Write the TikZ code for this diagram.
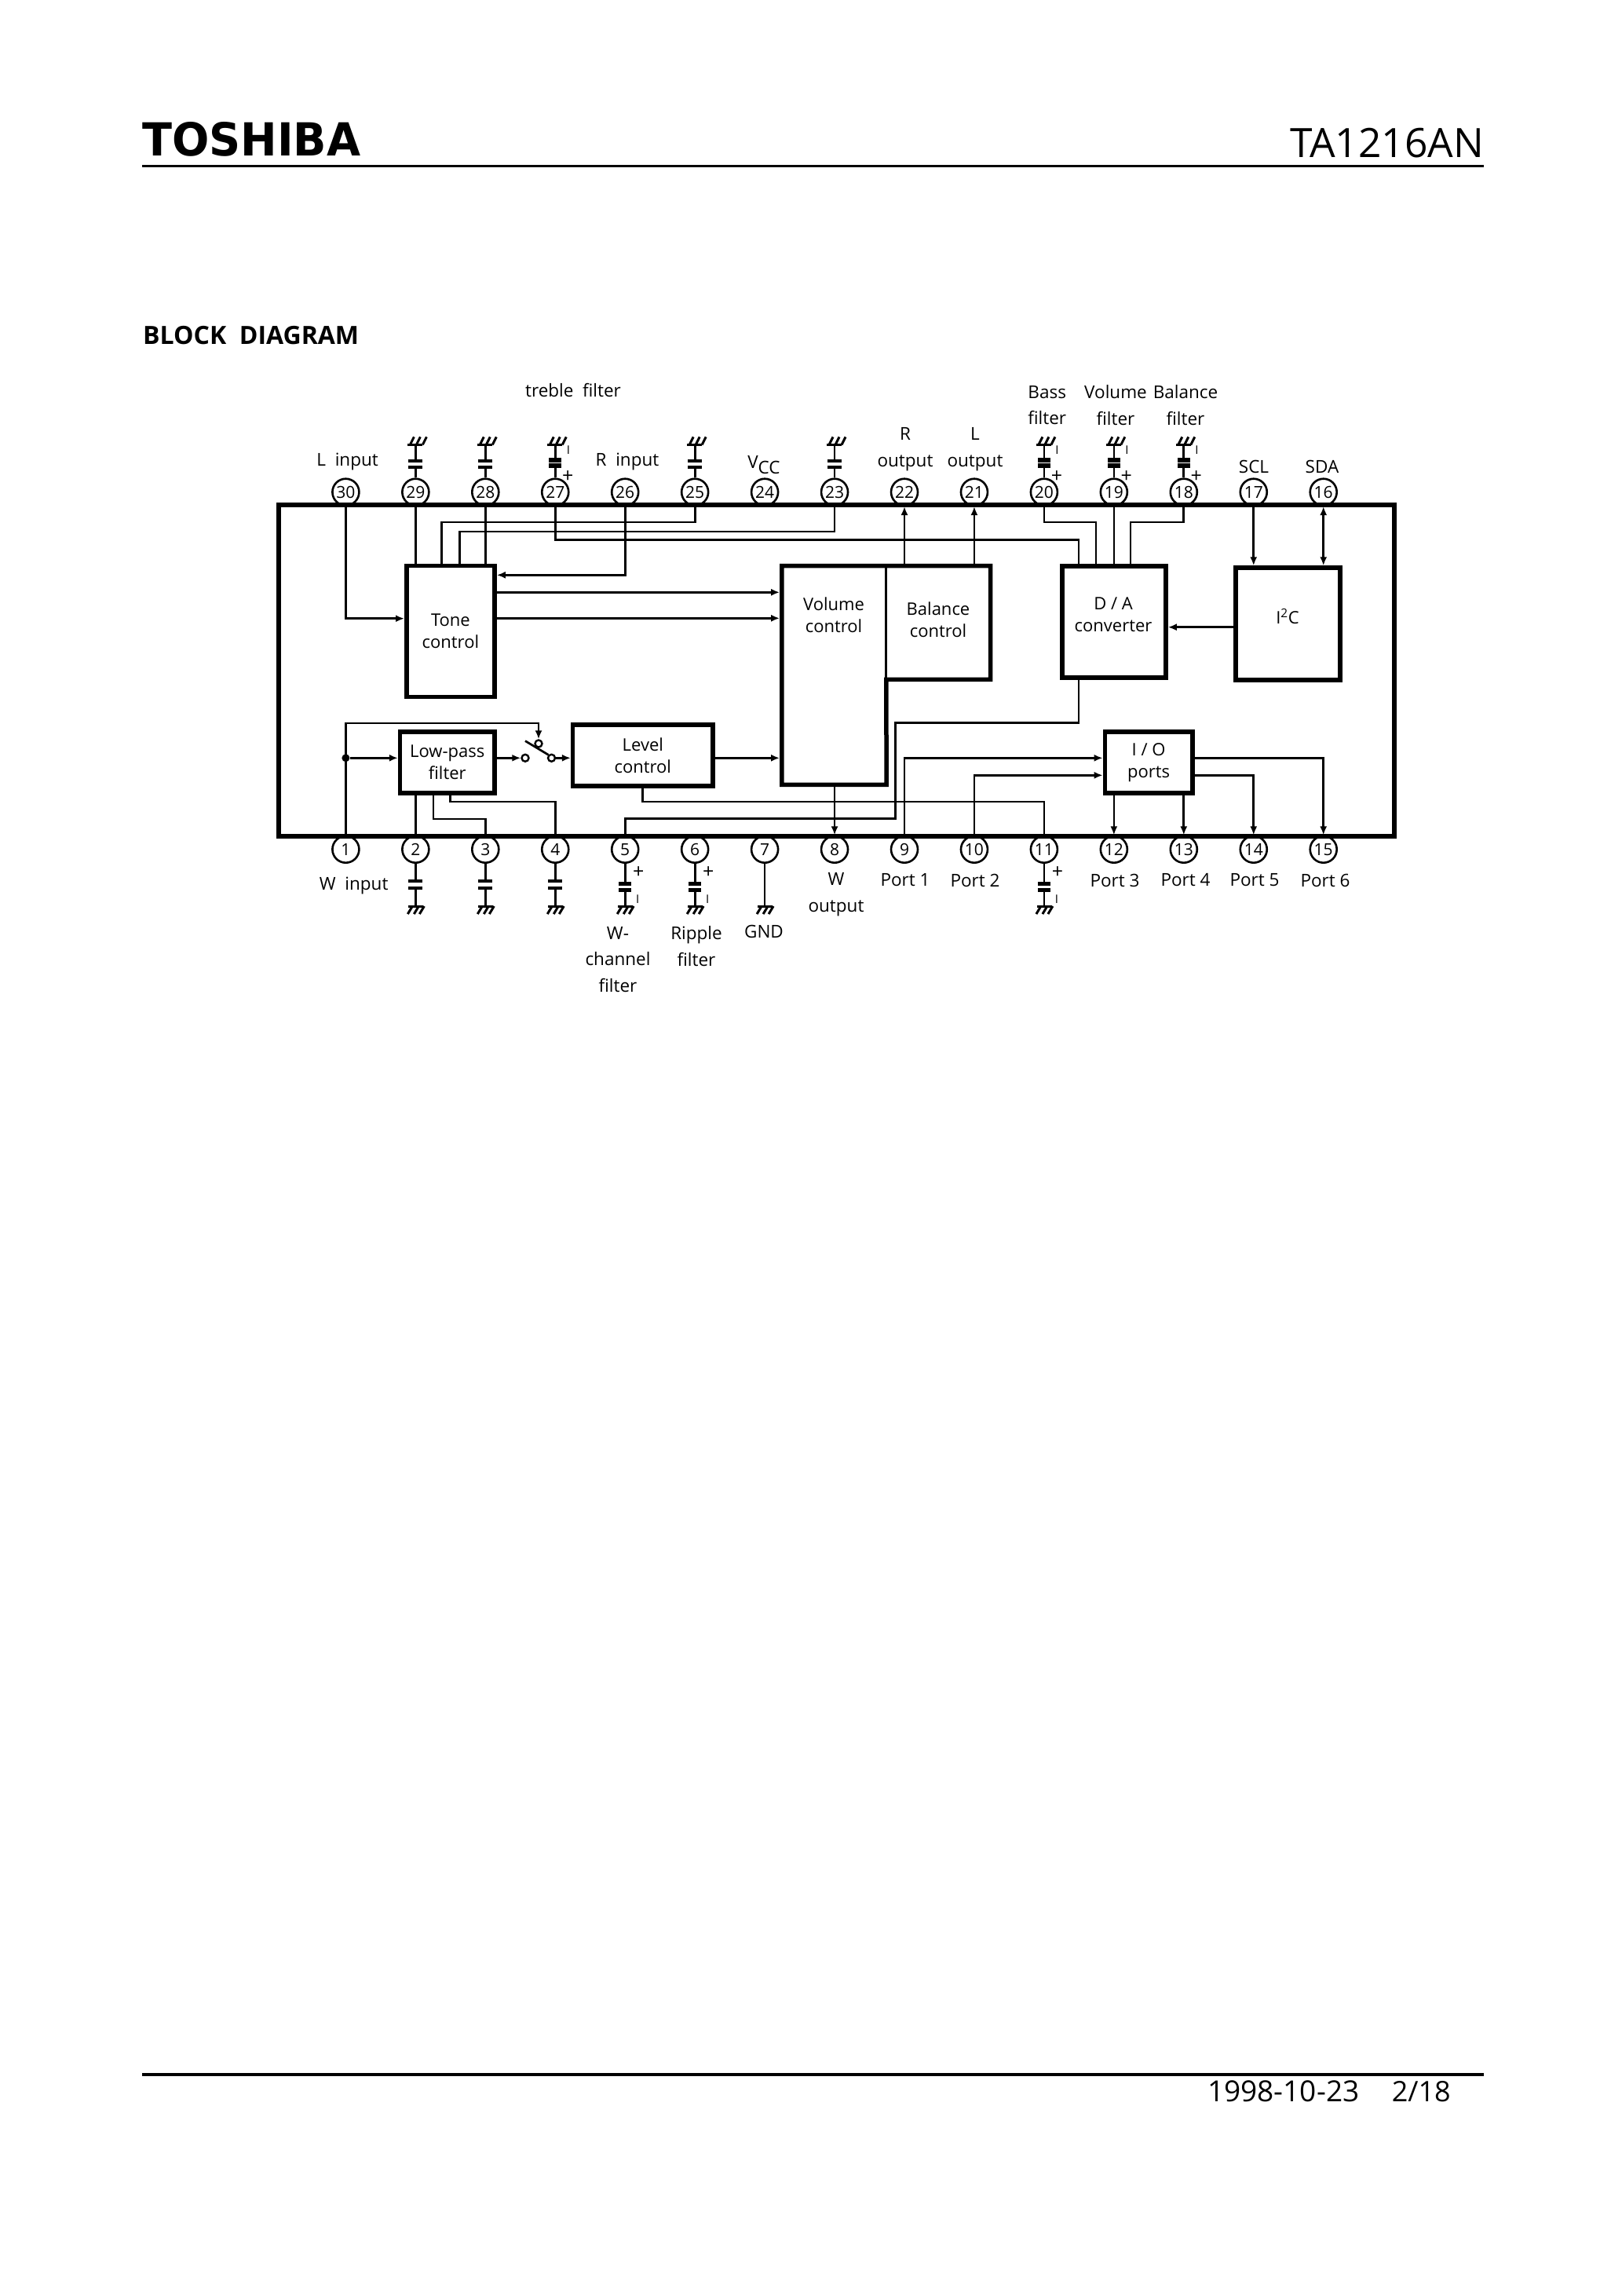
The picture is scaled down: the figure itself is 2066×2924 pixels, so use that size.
\documentclass[tikz,border=0pt]{standalone}
\usepackage{fontspec}
\setmainfont{Open Sans}
\newfontfamily\logofont{DejaVu Sans}
\usetikzlibrary{arrows.meta}
\tikzset{
	wire/.style={line width=2.7pt},
	pinnum/.style={circle,draw,line width=2.6pt,minimum size=34pt,inner sep=0pt,font=\fontsize{21}{21}\selectfont},
	block/.style={draw,line width=5.5pt,inner sep=0pt,align=center,font=\fontsize{22}{28}\selectfont},
	blockarea/.style={inner sep=0pt},
	blocktxt/.style={inner sep=0pt,align=center,font=\fontsize{22}{28}\selectfont},
	lbl/.style={inner sep=0pt,align=center,font=\fontsize{22.5}{33.5}\selectfont},
	plustxt/.style={inner sep=0pt,font=\fontsize{25}{25}\selectfont},
	minustxt/.style={inner sep=0pt,font=\fontsize{15}{15}\selectfont},
	contact/.style={circle,draw,line width=2.4pt,minimum size=9pt,inner sep=0pt},
	dot/.style={circle,fill=black,minimum size=10pt,inner sep=0pt},
	gndup/.pic={
		\draw[line width=3pt] (-10,0) -- (9,0);
		\foreach \d in {-7,1,9} \draw[line width=3pt] (\d,0) -- ++(5,-10);
	},
	gnddown/.pic={
		\draw[line width=3pt] (-9,0) -- (10,0);
		\foreach \d in {-4,4,11} \draw[line width=3pt] (\d,0) -- ++(-6,10);
	},
	capup/.pic={
		\draw[wire] (0,0) -- (0,-13) (0,-21) -- (0,-42);
		\draw[line width=4pt] (-9,-13) -- (9,-13) (-9,-21) -- (9,-21);
		\pic at (0,-42) {gndup};
	},
	elcapup/.pic={
		\draw[wire] (0,0) -- (0,-15) (0,-23) -- (0,-42);
		\draw[line width=5.5pt] (-8,-15.5) -- (8,-15.5) (-8,-22.5) -- (8,-22.5);
		\pic at (0,-42) {gndup};
		\node[plustxt] (plus) at (16,-1.4) {+};
		\node[minustxt] (minus) at (16.6,-35.4) {I};
	},
	capdown/.pic={
		\draw[wire] (0,0) -- (0,22) (0,31) -- (0,54);
		\draw[line width=4pt] (-9,22) -- (9,22) (-9,31) -- (9,31);
		\pic at (0,54) {gnddown};
	},
	elcapdown/.pic={
		\draw[wire] (0,0) -- (0,25) (0,33) -- (0,54);
		\draw[line width=4.5pt] (-8,25.3) -- (8,25.3) (-8,33.3) -- (8,33.3);
		\pic at (0,54) {gnddown};
		\node[plustxt] (plus) at (17,11) {+};
		\node[minustxt] (minus) at (16,45) {I};
	}
}
\begin{document}
\begin{tikzpicture}[x=1pt,y=-1pt,>={Latex[length=11pt,width=9pt]}]
\useasboundingbox (0,0) rectangle (2066,2924);

\node[anchor=base west,inner sep=0pt,xscale=0.96,font=\logofont\bfseries\fontsize{58}{58}\selectfont] (logo) at (181,198) {TOSHIBA};
\node[anchor=base east,inner sep=0pt,font=\fontsize{51.5}{51.5}\selectfont] (part) at (1890,200) {TA1216AN};
\draw[line width=3pt] (181,211) -- (1890,211);
\node[anchor=base west,inner sep=0pt,font=\bfseries\fontsize{32}{32}\selectfont] (title) at (182,438) {BLOCK\ \ DIAGRAM};
\draw[line width=4pt] (181,2642) -- (1890,2642);
\node[anchor=base west,inner sep=0pt,font=\fontsize{37}{37}\selectfont] (date) at (1538,2676) {1998-10-23};
\node[anchor=base east,inner sep=0pt,font=\fontsize{36}{36}\selectfont] (page) at (1848,2676) {2/18};

\foreach \n [count=\i from 0] in {30,29,28,27,26,25,24,23,22,21,20,19,18,17,16}
	\node[pinnum] (p\n) at ({440.4+88.95*\i},626.7) {\n};
\foreach \n [count=\i from 0] in {1,2,3,4,5,6,7,8,9,10,11,12,13,14,15}
	\node[pinnum] (p\n) at ({440.4+88.95*\i},1081.7) {\n};

\draw[line width=5.5pt] (355,643) rectangle (1776,1065);

\node[block,minimum width=112.3pt,minimum height=166.6pt] (tone) at (573.9,804) {Tone\\control};
\node[block,minimum width=120.4pt,minimum height=78pt] (lp) at (569.8,971) {Low-pass\\filter};
\node[block,minimum width=178.2pt,minimum height=78pt] (level) at (818.8,962) {Level\\control};
\node[block,minimum width=111.4pt,minimum height=78pt] (io) at (1463.1,971) {I / O\\ports};
\node[block,minimum width=132pt,minimum height=142.3pt] (da) at (1419,791.9) {};
\node[block,minimum width=133pt,minimum height=142.7pt] (i2c) at (1640.5,794.4) {};
\node[blockarea,minimum width=133pt,minimum height=278.3pt] (vol) at (1062.5,859.9) {};
\node[blockarea,minimum width=132.5pt,minimum height=144.3pt] (bal) at (1195.2,792.9) {};
\draw[line width=5.5pt] (vol.north west) -- (bal.north east) -- (bal.south east) -- (bal.south west) -- (vol.south east) -- (vol.south west) -- cycle;
\draw[wire] (bal.north west) -- (bal.south west);

\node[blocktxt] (voltxt) at (1062,783) {Volume\\control};
\node[blocktxt] (baltxt) at (1195,789) {Balance\\control};
\node[blocktxt] (datxt) at (1418,783) {D / A\\converter};
\node[blocktxt] (i2ctxt) at (1640,785) {I\textsuperscript{2}C};

\node[dot] (jn1) at (440.4,965.3) {};
\node[contact] (swa) at (669,965.3) {};
\node[contact] (swb) at (702.5,965.3) {};
\node[contact] (swc) at (686,947) {};

\draw[wire,->] (p30.south) |- ([yshift=16.3pt]tone.west);
\draw[wire] (p29.south) -- (p29 |- tone.north);
\draw[wire] (p28.south) -- (p28 |- tone.north);
\draw[wire] (p25.south) -- ++(0,20) -| ([xshift=-11.6pt]tone.north);
\draw[wire] (p23.south) -- ++(0,32) -| ([xshift=11.6pt]tone.north);
\draw[wire] (p27.south) -- ++(0,42.3) -| ([xshift=-45pt]da.north);
\draw[wire,->] (p26.south) |- ([yshift=71.7pt]tone.east);
\draw[wire,->,shorten >=2.7pt] ([yshift=49.7pt]tone.east) -- ([yshift=49.7pt]tone.east -| vol.west);
\draw[wire,->,shorten >=2.7pt] ([yshift=16.7pt]tone.east) -- ([yshift=16.7pt]tone.east -| vol.west);
\draw[wire,->] (p22 |- bal.north) -- (p22.south);
\draw[wire,->] (p21 |- bal.north) -- (p21.south);
\draw[wire] (p20.south) -- ++(0,20) -| ([xshift=-23pt]da.north);
\draw[wire] (p19.south) -- (p19 |- da.north);
\draw[wire] (p18.south) -- ++(0,20) -| ([xshift=21pt]da.north);
\draw[wire,->] (p17.south) -- (p17 |- i2c.north);
\draw[wire,<->] (p16.south) -- (p16 |- i2c.north);
\draw[wire,->] ([yshift=-4.3pt]i2c.west) -- ([yshift=-4.3pt]i2c.west -| da.east);
\draw[wire] ([xshift=-45pt]da.south) -- ++(0,55) -- ++(-233.3,0) -- ++(0,122) -| (p5.north);
\draw[wire] (level.south) -- ++(0,17.3) -| (p11.north);
\draw[wire,->] (p1.north) -- ++(0,-142.4) -| (swc.north);
\draw[wire,->] (jn1) -- (jn1 -| lp.west);
\draw[wire,->] (jn1 -| lp.east) -- (swa.west);
\draw[wire] ([yshift=16pt]swa.north) -- (swb.north west);
\draw[wire,->] (swb.east) -- (swb -| level.west);
\draw[wire,->,shorten >=2.7pt] (swb -| level.east) -- (swb -| vol.west);
\draw[wire] (p2.north) -- (p2 |- lp.south);
\draw[wire] (p3.north) -- ++(0,-20.4) -| ([xshift=-17.8pt]lp.south);
\draw[wire] (p4.north) -- ++(0,-42.4) -| ([xshift=3.7pt]lp.south);
\draw[wire,->] (p8 |- vol.south) -- (p8.north);
\draw[wire,->] (p9.north) |- ([yshift=5.7pt]io.west);
\draw[wire,->] (p10.north) |- ([yshift=-16.3pt]io.west);
\draw[wire,->] (p12 |- io.south) -- (p12.north);
\draw[wire,->] (p13 |- io.south) -- (p13.north);
\draw[wire,->] ([yshift=-16.3pt]io.east) -| (p14.north);
\draw[wire,->] ([yshift=5.7pt]io.east) -| (p15.north);

\foreach \n in {29,28,25,23} \pic (c\n) at (p\n.north) {capup};
\foreach \n in {27,20,19,18} \pic (c\n) at (p\n.north) {elcapup};
\foreach \n in {2,3,4} \pic (c\n) at (p\n.south) {capdown};
\foreach \n in {5,6,11} \pic (c\n) at (p\n.south) {elcapdown};
\draw[line width=2pt] (p7.south) -- ++(0,54);
\pic (c7) at ([yshift=-54pt]p7.south) {gnddown};

\node[lbl] (ltreble) at (730,497) {treble\ \ filter};
\node[lbl] (lLin) at (442.6,588) {L\ \ input};
\node[lbl] (lRin) at (799,588) {R\ \ input};
\node[lbl] (lvcc) at (973,592) {V\raisebox{-7pt}{CC}};
\node[lbl] (lRout) at (1153,572.3) {R\\output};
\node[lbl] (lLout) at (1242,572.3) {L\\output};
\node[lbl] (lbass) at (1333.7,516.3) {Bass\\filter};
\node[lbl] (lvolf) at (1421,516.3) {Volume\\filter};
\node[lbl] (lbalf) at (1510,516.3) {Balance\\filter};
\node[lbl] (lscl) at (1597,594) {SCL};
\node[lbl] (lsda) at (1684,594) {SDA};
\node[lbl] (lWin) at (450.7,1128) {W\ \ input};
\node[lbl] (lWch) at (787,1221.7) {W-\\channel\\filter};
\node[lbl] (lrip) at (887,1205) {Ripple\\filter};
\node[lbl] (lgnd) at (973,1186) {GND};
\node[lbl] (lWout) at (1065,1139) {W\\output};
\node[lbl] (lport1) at (1153,1121) {Port\ 1};
\node[lbl] (lport2) at (1242,1121) {Port\ 2};
\node[lbl] (lport3) at (1420,1121) {Port\ 3};
\node[lbl] (lport4) at (1510,1121) {Port\ 4};
\node[lbl] (lport5) at (1598,1121) {Port\ 5};
\node[lbl] (lport6) at (1688,1121) {Port\ 6};
\end{tikzpicture}
\end{document}
